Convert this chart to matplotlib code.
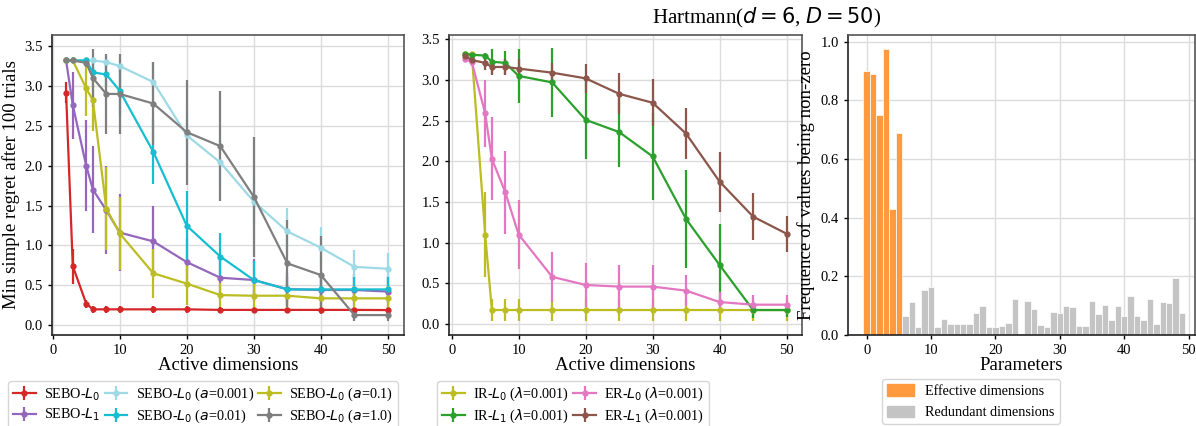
"""
Hartmann(d=6, D=50): regret vs active dimensions + frequency of non-zero params.
"""

import matplotlib

matplotlib.use("Agg")
import matplotlib.pyplot as plt
from matplotlib.patches import Patch
import numpy as np

plt.rcParams["font.family"] = ["Liberation Serif", "DejaVu Serif"]
plt.rcParams["mathtext.fontset"] = "dejavusans"

X_DIMS = [2, 3, 5, 6, 8, 10, 15, 20, 25, 30, 35, 40, 45, 50]

# --- panel 1: SEBO variants ---
sebo_l0 = [2.915, 0.74, 0.27, 0.197, 0.197, 0.197, 0.197, 0.197, 0.19, 0.19, 0.19, 0.19, 0.19, 0.188]
sebo_l0_err = [0.13, 0.22, 0.05, 0.04, 0.04, 0.04, 0.04, 0.04, 0.04, 0.04, 0.04, 0.04, 0.04, 0.04]
sebo_l1 = [3.32, 2.76, 2.0, 1.70, 1.44, 1.16, 1.05, 0.79, 0.594, 0.565, 0.45, 0.44, 0.44, 0.42]
sebo_l1_err = [0.03, 0.42, 0.57, 0.55, 0.55, 0.48, 0.45, 0.3, 0.25, 0.26, 0.2, 0.2, 0.2, 0.2]
sebo_a0001 = [3.32, 3.32, 3.32, 3.32, 3.30, 3.25, 3.05, 2.38, 2.04, 1.55, 1.175, 0.97, 0.73, 0.707]
sebo_a0001_err = [0.02, 0.02, 0.03, 0.05, 0.08, 0.1, 0.25, 0.3, 0.3, 0.3, 0.3, 0.26, 0.21, 0.2]
sebo_a001 = [3.32, 3.32, 3.32, 3.17, 3.145, 2.94, 2.175, 1.246, 0.86, 0.565, 0.447, 0.447, 0.447, 0.447]
sebo_a001_err = [0.02, 0.02, 0.03, 0.1, 0.15, 0.3, 0.41, 0.44, 0.3, 0.24, 0.15, 0.15, 0.15, 0.15]
sebo_a01 = [3.32, 3.32, 2.97, 2.82, 1.46, 1.15, 0.65, 0.52, 0.376, 0.368, 0.368, 0.335, 0.335, 0.335]
sebo_a01_err = [0.02, 0.02, 0.35, 0.38, 0.52, 0.46, 0.31, 0.27, 0.15, 0.15, 0.15, 0.15, 0.15, 0.15]
sebo_a1 = [3.32, 3.32, 3.29, 3.10, 2.90, 2.90, 2.78, 2.42, 2.245, 1.61, 0.774, 0.627, 0.125, 0.125]
sebo_a1_err = [0.02, 0.02, 0.05, 0.36, 0.5, 0.5, 0.52, 0.66, 0.69, 0.75, 0.55, 0.49, 0.08, 0.08]

# --- panel 2: IR / ER baselines ---
ir_l0 = [3.32, 3.32, 1.10, 0.172, 0.172, 0.172, 0.172, 0.172, 0.172, 0.172, 0.172, 0.172, 0.172, 0.172]
ir_l0_err = [0.02, 0.02, 0.52, 0.14, 0.14, 0.14, 0.14, 0.14, 0.14, 0.14, 0.14, 0.14, 0.14, 0.14]
ir_l1 = [3.32, 3.31, 3.30, 3.225, 3.21, 3.05, 2.97, 2.51, 2.36, 2.06, 1.29, 0.725, 0.172, 0.172]
ir_l1_err = [0.02, 0.02, 0.03, 0.15, 0.15, 0.33, 0.42, 0.48, 0.43, 0.53, 0.6, 0.5, 0.1, 0.08]
er_l0 = [3.26, 3.22, 2.59, 2.03, 1.62, 1.10, 0.58, 0.48, 0.46, 0.46, 0.41, 0.27, 0.238, 0.238]
er_l0_err = [0.04, 0.05, 0.41, 0.51, 0.51, 0.42, 0.31, 0.27, 0.27, 0.27, 0.19, 0.12, 0.12, 0.12]
er_l1 = [3.30, 3.245, 3.21, 3.16, 3.16, 3.14, 3.09, 3.02, 2.83, 2.72, 2.34, 1.75, 1.32, 1.11]
er_l1_err = [0.04, 0.05, 0.09, 0.1, 0.1, 0.12, 0.12, 0.18, 0.25, 0.29, 0.31, 0.37, 0.29, 0.22]

# --- panel 3: frequency of non-zero values per parameter ---
freq_effective = [0.90, 0.89, 0.75, 0.975, 0.43, 0.69]
freq_redundant = [
    0.066, 0.114, 0.028, 0.155, 0.165, 0.028, 0.056, 0.039, 0.036, 0.039,
    0.039, 0.076, 0.10, 0.028, 0.026, 0.03, 0.042, 0.124, 0.0, 0.117,
    0.09, 0.033, 0.026, 0.08, 0.074, 0.098, 0.095, 0.03, 0.03, 0.117,
    0.071, 0.104, 0.05, 0.098, 0.064, 0.132, 0.064, 0.05, 0.122, 0.036,
    0.114, 0.108, 0.194, 0.074,
]

LEFT_SERIES = [
    (sebo_l0, sebo_l0_err, "#d62728", r"SEBO-$L_0$"),
    (sebo_l1, sebo_l1_err, "#9467bd", r"SEBO-$L_1$"),
    (sebo_a0001, sebo_a0001_err, "#9edae5", r"SEBO-$L_0$ ($a$=0.001)"),
    (sebo_a001, sebo_a001_err, "#17becf", r"SEBO-$L_0$ ($a$=0.01)"),
    (sebo_a01, sebo_a01_err, "#bcbd22", r"SEBO-$L_0$ ($a$=0.1)"),
    (sebo_a1, sebo_a1_err, "#7f7f7f", r"SEBO-$L_0$ ($a$=1.0)"),
]
MID_SERIES = [
    (ir_l0, ir_l0_err, "#bcbd22", r"IR-$L_0$ ($\lambda$=0.001)"),
    (ir_l1, ir_l1_err, "#2ca02c", r"IR-$L_1$ ($\lambda$=0.001)"),
    (er_l0, er_l0_err, "#e377c2", r"ER-$L_0$ ($\lambda$=0.001)"),
    (er_l1, er_l1_err, "#8c564b", r"ER-$L_1$ ($\lambda$=0.001)"),
]

ORANGE = "#ff9a3e"
GREY = "#c4c4c4"


def style_axes(ax):
    ax.grid(True, color="#dcdcdc", linewidth=1.0)
    ax.set_axisbelow(True)
    for side in ["top", "right"]:
        ax.spines[side].set_color("#555555")
    for side in ["left", "bottom"]:
        ax.spines[side].set_color("#222222")
    for sp in ax.spines.values():
        sp.set_linewidth(1.2)
    ax.tick_params(labelsize=10.5, length=3, width=1)
    ax.set_xticks(range(0, 51, 10))


def draw_curves(ax, series):
    for vals, errs, color, label in series:
        ax.errorbar(
            X_DIMS, vals, yerr=errs, color=color, ecolor=color,
            marker="o", markersize=3.5, linewidth=1.6, elinewidth=1.6,
            label=label,
        )


W, H = 1196, 426
fig = plt.figure(figsize=(W / 100, H / 100), dpi=100)


def add_ax(x0, y0, x1, y1):
    return fig.add_axes([x0 / W, 1 - y1 / H, (x1 - x0) / W, (y1 - y0) / H])


ax1 = add_ax(52, 35, 404, 335)
ax2 = add_ax(449, 35, 802, 335)
ax3 = add_ax(848, 35, 1195, 335)

draw_curves(ax1, LEFT_SERIES)
style_axes(ax1)
ax1.set_xlim(-0.1, 52.4)
ax1.set_ylim(-0.125, 3.64)
ax1.set_yticks(np.arange(0, 3.51, 0.5))
ax1.set_xlabel("Active dimensions", fontsize=13.5, labelpad=0)
ax1.set_ylabel("Min simple regret after 100 trials", fontsize=13.5, labelpad=3)

draw_curves(ax2, MID_SERIES)
style_axes(ax2)
ax2.set_xlim(-0.4, 52.3)
ax2.set_ylim(-0.135, 3.553)
ax2.set_yticks(np.arange(0, 3.51, 0.5))
ax2.set_xlabel("Active dimensions", fontsize=13.5, labelpad=0)

n_eff = len(freq_effective)
ax3.bar(range(n_eff), freq_effective, width=1.0, color=ORANGE,
        edgecolor="white", linewidth=0.5, label="Effective dimensions")
ax3.bar(range(n_eff, n_eff + len(freq_redundant)), freq_redundant, width=1.0,
        color=GREY, edgecolor="white", linewidth=0.5,
        label="Redundant dimensions")
style_axes(ax3)
ax3.set_xlim(-2.9, 51.0)
ax3.set_ylim(0, 1.023)
ax3.set_yticks(np.arange(0, 1.01, 0.2))
ax3.set_xlabel("Parameters", fontsize=13.5, labelpad=0)
ax3.set_ylabel("Frequence of values being non-zero", fontsize=13.5, labelpad=4)

fig.text(767 / W, 1 - 18 / H, r"Hartmann($d=6$, $D=50$)", fontsize=15,
         ha="center", va="center")

leg_kw = dict(fontsize=10.2, frameon=True, edgecolor="#cccccc",
              columnspacing=0.3, handletextpad=0.6, handlelength=1.6,
              borderpad=0.35, labelspacing=0.3, borderaxespad=0,
              fancybox=True)
h1, l1 = ax1.get_legend_handles_labels()
fig.legend(h1, l1, loc="upper left", ncol=3,
           bbox_to_anchor=(8 / W, 1 - 381 / H), **leg_kw)
h2, l2 = ax2.get_legend_handles_labels()
fig.legend(h2, l2, loc="upper left", ncol=2,
           bbox_to_anchor=(437 / W, 1 - 381 / H), **leg_kw)
patches = [Patch(color=ORANGE, label="Effective dimensions"),
           Patch(color=GREY, label="Redundant dimensions")]
leg3_kw = dict(leg_kw, labelspacing=0.55, handlelength=1.9, handletextpad=0.8,
               handleheight=0.9)
fig.legend(handles=patches, loc="upper left", ncol=1,
           bbox_to_anchor=(882 / W, 1 - 379 / H), **leg3_kw)

fig.savefig("out.png", dpi=100)
